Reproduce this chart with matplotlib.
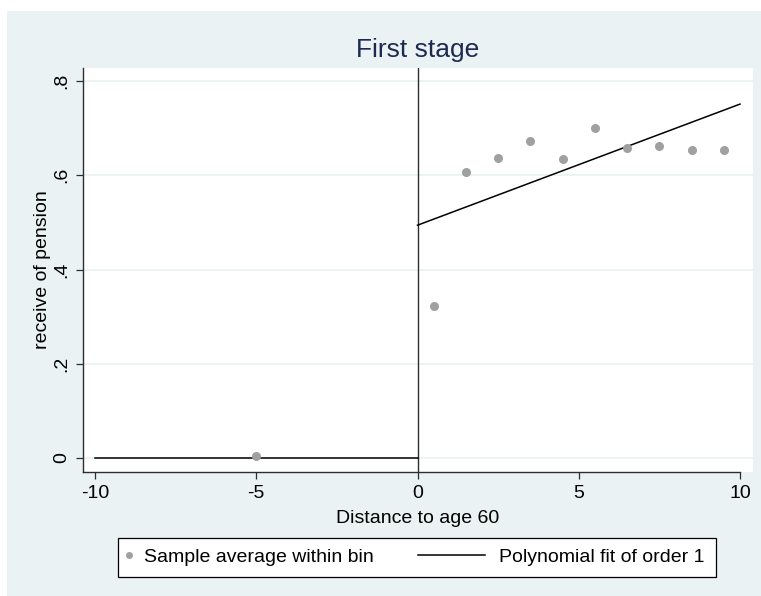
import numpy as np
import matplotlib
matplotlib.use('Agg')
import matplotlib.pyplot as plt
from matplotlib.lines import Line2D
from matplotlib.patches import Rectangle
from matplotlib.legend_handler import HandlerLine2D

plt.rcParams['font.family'] = ['Liberation Sans', 'DejaVu Sans']

# binned sample averages
bin_x = [-5, 0.5, 1.5, 2.5, 3.5, 4.5, 5.5, 6.5, 7.5, 8.5, 9.5]
bin_y = [0.004, 0.323, 0.607, 0.636, 0.672, 0.634, 0.701, 0.657, 0.662, 0.653, 0.653]

# linear fits on each side of the cutoff
fit_left_x = [-10, 0]
fit_left_y = [0.0, 0.0]
fit_right_x = [0, 10]
fit_right_y = [0.494, 0.751]

xticks = [-10, -5, 0, 5, 10]
yticks = [0, 0.2, 0.4, 0.6, 0.8]
ylabels = ['0', '.2', '.4', '.6', '.8']

BG = '#eaf2f3'
DOT = '#a0a0a0'
NAVY = '#1c2a52'
AX = '#2e2e2e'


class LeftLine(HandlerLine2D):
    # draw the legend line to the left of the (short) handle box
    def create_artists(self, legend, orig_handle, xdescent, ydescent,
                       width, height, fontsize, trans):
        y = height / 2.0 - ydescent
        ln = Line2D([width - 3.92 * fontsize, width - 0.47 * fontsize], [y, y],
                    color=orig_handle.get_color(), lw=orig_handle.get_linewidth())
        ln.set_transform(trans)
        return [ln]


class LeftDot(HandlerLine2D):
    # marker sits at the left edge of the handle box
    def create_artists(self, legend, orig_handle, xdescent, ydescent,
                       width, height, fontsize, trans):
        y = height / 2.0 - ydescent
        mk = Line2D([0.0], [y], marker='o', ls='none', color=orig_handle.get_color(),
                    ms=orig_handle.get_markersize(), mec='none')
        mk.set_transform(trans)
        return [mk]


fig = plt.figure(figsize=(7.61, 5.96), dpi=100)
fig.patch.set_facecolor('white')
fig.patches.append(Rectangle((7 / 761, 0), 1, 1 - 11 / 596, transform=fig.transFigure,
                             facecolor=BG, edgecolor='none', zorder=-10))

ax = fig.add_axes([83 / 761, 1 - 472 / 596, 670 / 761, 404 / 596])
ax.set_facecolor('white')

ax.set_xlim(-10.372, 10.403)
ax.set_ylim(-0.0297, 0.8276)

for yv in yticks:
    ax.axhline(yv, color=BG, lw=1.3, zorder=0)
ax.axvline(0, color=AX, lw=1.0, zorder=2)

ax.plot(fit_left_x, fit_left_y, color='black', lw=1.1, zorder=3)
ax.plot(fit_right_x, fit_right_y, color='black', lw=1.1, zorder=3)
ax.plot(bin_x, bin_y, 'o', color=DOT, ms=6.5, mec='none', zorder=4)

for s in ['top', 'right']:
    ax.spines[s].set_visible(False)
for s in ['left', 'bottom']:
    ax.spines[s].set_color(AX)
    ax.spines[s].set_linewidth(1.0)
ax.spines['bottom'].set_bounds(-10.372, 10)

ax.set_xticks(xticks)
ax.set_xticklabels([str(v) for v in xticks])
ax.set_yticks(yticks)
ax.set_yticklabels(ylabels, rotation=90, va='center')
ax.tick_params(axis='both', direction='out', length=5, width=0.9, color=AX,
               labelsize=14, pad=4)

ax.set_title('First stage', fontsize=19, color=NAVY, pad=8)
ax.set_xlabel('Distance to age 60', fontsize=14, labelpad=6)
ax.set_ylabel('receive of pension', fontsize=14, labelpad=2)

dot_h = Line2D([], [], marker='o', ls='none', color=DOT, ms=5, mec='none')
line_h = Line2D([], [], color='black', lw=1.1)
leg = fig.legend([dot_h, line_h],
                 ['Sample average within bin', 'Polynomial fit of order 1'],
                 handler_map={line_h: LeftLine(), dot_h: LeftDot()},
                 loc='center', bbox_to_anchor=(417 / 761, 1 - 557 / 596),
                 ncol=2, fontsize=14, frameon=True, fancybox=False,
                 edgecolor='black', framealpha=1, borderpad=0.55,
                 handlelength=0.5, handletextpad=0.25, columnspacing=5.73)
leg.get_frame().set_linewidth(0.9)

fig.savefig('out.png', dpi=100, facecolor=fig.get_facecolor())
